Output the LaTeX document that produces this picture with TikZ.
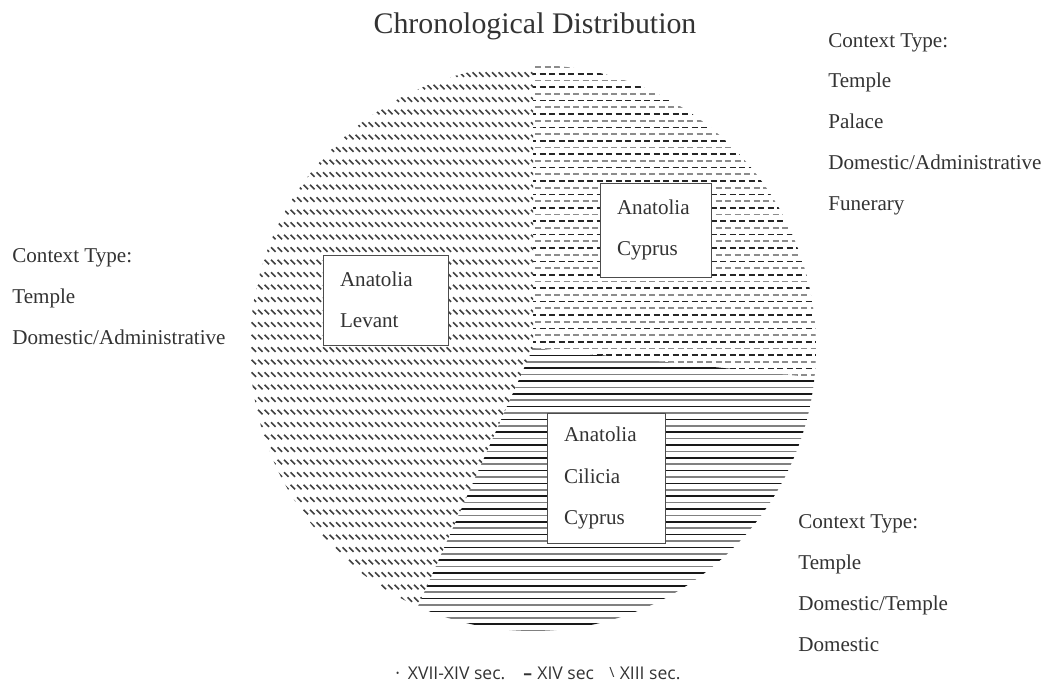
\documentclass[tikz,border=0pt]{standalone}
\usepackage{fontspec}
\usepackage{graphicx}
\setmainfont{Liberation Serif}
\newfontfamily\legendfont{Open Sans}
\newcommand{\pieR}{5.66}

\begin{document}
\begin{tikzpicture}[
	ctx/.style={anchor=base west, inner sep=0pt, text=black!80, font=\fontsize{12}{14}\selectfont},
	place/.style={draw=black!70, fill=white, align=left, inner xsep=0.34cm, inner ysep=0pt, text=black!80, font=\fontsize{12}{23.4}\selectfont},
	legend/.style={anchor=base west, inner sep=0pt, text=black!80, font=\legendfont\fontsize{10}{12}\selectfont},
	backstroke/.style={black!75, line width=0.9pt},
	dashrow/.style={line width=1pt, dash pattern=on 0.12cm off 0.07cm},
	linerow/.style={line width=0.9pt}
]

	\useasboundingbox (0,0) rectangle (20.9,13.64);
	\coordinate (c) at (10.66,6.68);

	% XIII sec.
	\begin{scope}
		\clip (c) -- ++(90:\pieR) arc[start angle=90, end angle=246, radius=\pieR] -- cycle;
		\draw[backstroke] \foreach \y in {1.15,1.4,...,12.4} { \foreach \x in {4.9,5.03,...,10.8} { (\x,\y+0.045) -- ++(0.09,-0.09) } };
	\end{scope}

	% XIV sec
	\begin{scope}
		\clip (c) -- ++(-6:\pieR) arc[start angle=-6, end angle=90, radius=\pieR] -- cycle;
		\foreach \y in {6.0,6.268,...,12.4} {
			\draw[dashrow, black!85] (10.6,\y) -- (16.4,\y);
			\draw[dashrow, black!45, dash phase=0.09cm] (10.6,\y+0.134) -- (16.4,\y+0.134);
		}
	\end{scope}

	% XVII-XIV sec.
	\begin{scope}
		\clip (c) -- ++(246:\pieR) arc[start angle=246, end angle=354, radius=\pieR] -- cycle;
		\foreach \y in {0.9,1.156,...,7.0} {
			\draw[linerow, black!90] (4.9,\y) -- (16.4,\y);
			\draw[linerow, black!50] (4.9,\y+0.128) -- (16.4,\y+0.128);
		}
	\end{scope}

	\node[place, text width=1.82cm, minimum height=1.8cm] (levant) at (7.71,7.64) {Anatolia\\Levant};
	\node[place, text width=1.54cm, minimum height=1.88cm] (cyprus) at (13.11,9.04) {Anatolia\\Cyprus};
	\node[place, text width=1.68cm, minimum height=2.6cm] (cilicia) at (12.12,4.08) {Anatolia\\Cilicia\\Cyprus};

	\node[anchor=base, inner sep=0pt, text=black!80, font=\fontsize{17}{20}\selectfont] (title) at (10.7,12.98) {Chronological Distribution};

	\foreach \t [count=\i] in {Context Type:, Temple, Domestic/Administrative}
		\node[ctx] (left\i) at (0.24,{8.4-0.826*(\i-1)}) {\t};
	\foreach \t [count=\i] in {Context Type:, Temple, Palace, Domestic/Administrative, Funerary}
		\node[ctx] (top\i) at (16.56,{12.7-0.818*(\i-1)}) {\t};
	\foreach \t [count=\i] in {Context Type:, Temple, Domestic/Temple, Domestic}
		\node[ctx] (low\i) at (15.96,{3.08-0.826*(\i-1)}) {\t};

	\node[legend] (leg1) at (7.9,0.06) {·\hspace{0.45em}XVII-XIV sec.};
	\node[legend] (leg2) at (10.46,0.06) {\textbf{–}\hspace{0.3em}XIV sec};
	\node[legend] (leg3) at (12.18,0.06) {\raisebox{0.15ex}{\scalebox{0.8}{\textbackslash}}\hspace{0.3em}XIII sec.};

\end{tikzpicture}
\end{document}
